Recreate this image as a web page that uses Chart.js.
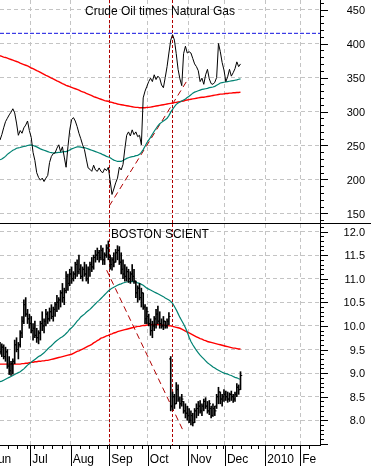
<!DOCTYPE html>
<html>
<head>
<meta charset="utf-8">
<script src="https://cdn.jsdelivr.net/npm/chart.js@4.4.0/dist/chart.umd.min.js"></script>
<style>
  body { margin: 0; background: #fff; }
  #wrap { position: relative; width: 371px; height: 466px; overflow: hidden; }
  canvas { position: absolute; left: 0; }
  #top { top: 0; }
  #bottom { top: 224px; }
</style>
</head>
<body>
<div id="wrap">
  <canvas id="top" width="371" height="224"></canvas>
  <canvas id="bottom" width="371" height="242"></canvas>
</div>
<script>
// x = trading day counted from Jun 1 2009
const firstDay = 5;
const monthLines = [-0.5, 21.5, 43.5, 64.5, 85.5, 107.5, 127.5, 149.5, 168.5];
const monthLabels = ['Jun', 'Jul', 'Aug', 'Sep', 'Oct', 'Nov', 'Dec', '2010', 'Fe'];
const weekStarts = [0, 5, 10, 15, 20, 24, 29, 34, 39, 44, 49, 54, 59, 64, 69, 73, 78, 83, 88, 93, 98, 103,
  108, 113, 118, 123, 127, 132, 137, 142, 146, 150, 155, 160, 164, 169, 174];
const markerDays = [64.5, 98.8];

// Crude oil x natural gas
const oilTicks = [150, 200, 250, 300, 350, 400, 450];
const crudeGas = [
  258, 266, 276, 285, 290, 295, 299, 304, 298, 283,
  265, 272, 268, 276, 280, 286, 272, 262, 240, 228,
  210, 203, 199, 202, 197, 202, 206, 225, 234, 238,
  239, 246, 251, 241, 248, 233, 218, 248, 273, 288,
  291, 286, 278, 268, 260, 251, 244, 230, 217, 215,
  212, 221, 214, 212, 217, 212, 210, 216, 213, 218,
  198, 178, 186, 195, 202, 218, 214, 222, 245, 265,
  270, 264, 273, 266, 270, 263, 265, 251, 320, 330,
  337, 344, 349, 344, 354, 347, 352, 349, 339, 335,
  350, 366, 386, 405, 413, 405, 385, 362, 348, 338,
  385, 396, 386, 388, 386, 378, 370, 366, 360, 344,
  349, 340, 354, 362, 348, 341, 340, 343, 350, 400,
  388, 372, 361, 344, 351, 362, 352, 357, 363, 373,
  366, 370
];
const crudeGasMa50 = [
  229, 230, 232, 234, 237, 239, 241, 243, 244, 246,
  246.5, 247, 248, 248.5, 249, 250, 250.5, 251, 250, 249,
  248, 246.5, 245, 244, 243, 242, 241, 240, 239.5, 239,
  239, 239.5, 240, 240, 240.5, 241, 241, 242, 243.5, 245,
  246, 247, 248, 248, 247.5, 247, 247, 246, 245, 244,
  243, 242, 241, 240, 239, 238, 236.5, 235.5, 234, 233,
  232, 230, 228.5, 227.5, 226.5, 226.5, 226.5, 228, 229.5, 231,
  232, 233, 233.5, 234, 235, 235.5, 237, 240, 244, 249,
  254, 258, 262, 266.5, 271, 275, 279, 282, 284, 286,
  288, 290, 294, 299, 303, 307, 310.5, 312.5, 314, 315.5,
  317, 318.5, 320.5, 322.5, 324.5, 327, 328.5, 329.5, 330.5, 331.5,
  332.5, 333, 333.5, 334, 335, 335.5, 336, 337, 338.5, 340,
  342, 342.5, 343, 343.5, 344, 344.5, 345, 345.5, 346, 346.5,
  347.5, 348
];
const crudeGasMa200 = [
  382, 381, 380, 379.5, 378.5, 377.5, 376.5, 375.5, 374.5, 373.5,
  372.5, 371, 370, 369, 368, 367, 365.5, 364, 363, 361.5,
  360, 359, 357.5, 356, 354.5, 353, 352, 350.5, 349, 348,
  346.5, 345, 344, 342.5, 341, 340, 338.5, 337.5, 336.5, 335.5,
  334.5, 333.5, 332.5, 331.5, 330, 329, 328, 326.5, 325.5, 324.5,
  323.5, 322, 321, 320, 319, 318, 317, 316, 315.5, 315,
  314, 313.5, 312.5, 312, 311, 310.5, 310, 309.5, 309, 308.5,
  308, 307.5, 307, 306.5, 306, 306, 305.5, 305.5, 305.5, 305.5,
  306, 306, 306.5, 307, 307.5, 308, 308.5, 309, 309.5, 310,
  310.5, 311, 311.5, 312, 312.5, 313, 313.5, 314, 314.5, 315,
  315.5, 316.5, 317, 317.5, 318, 318.5, 319, 319.5, 320, 320.5,
  321, 321, 321.5, 322, 322.5, 323, 323.5, 324, 324.5, 325,
  325.5, 325.5, 326, 326.5, 326.5, 327, 327, 327.5, 327.5, 328,
  328, 328.5
];
const oilTrendDays = [64.5, 107.7];
const oilTrendVals = [161, 349];
const oilHigh = 415;

// Boston Scientific daily bars
const bsxTicks = [8.0, 8.5, 9.0, 9.5, 10.0, 10.5, 11.0, 11.5, 12.0];
const opens = [
  9.50, 9.45, 9.55, 9.35, 9.45, 9.15, 9.05, 9.20, 9.25, 9.60,
  9.50, 9.60, 9.85, 10.10, 10.45, 10.25, 10.15, 10.05, 9.90, 9.95,
  9.80, 9.75, 9.85, 10.05, 10.00, 10.10, 10.25, 10.15, 10.30, 10.20,
  10.35, 10.45, 10.50, 10.55, 10.70, 10.60, 10.75, 11.05, 10.90, 11.10,
  11.00, 11.10, 11.30, 11.15, 11.20, 11.05, 11.20, 11.10, 11.00, 11.20,
  11.30, 11.25, 11.45, 11.50, 11.55, 11.45, 11.60, 11.40, 11.50, 11.65,
  11.45, 11.30, 11.40, 11.35, 11.55, 11.60, 11.35, 11.20, 11.10, 11.05,
  11.15, 11.00, 11.10, 11.05, 10.95, 10.70, 10.80, 10.60, 10.70, 10.40,
  10.15, 10.20, 10.05, 9.90, 10.00, 10.15, 10.25, 10.10, 10.05, 10.00,
  10.10, 10.00, 10.10, 9.30, 8.30, 8.50, 8.35, 8.65, 8.45, 8.35,
  8.40, 8.20, 8.15, 8.10, 8.00, 8.10, 7.95, 8.20, 8.25, 8.30,
  8.20, 8.30, 8.40, 8.30, 8.20, 8.25, 8.10, 8.25, 8.30, 8.50,
  8.60, 8.45, 8.50, 8.55, 8.50, 8.45, 8.55, 8.50, 8.45, 8.55,
  8.70, 8.65
];
const highs = [
  9.65, 9.62, 9.60, 9.55, 9.50, 9.35, 9.25, 9.30, 9.70, 9.75,
  9.65, 9.90, 10.20, 10.55, 10.60, 10.35, 10.25, 10.20, 10.05, 10.10,
  9.95, 9.90, 10.10, 10.30, 10.15, 10.35, 10.30, 10.38, 10.45, 10.40,
  10.50, 10.65, 10.60, 10.75, 10.90, 10.80, 11.15, 11.10, 11.20, 11.25,
  11.15, 11.35, 11.40, 11.50, 11.30, 11.25, 11.35, 11.30, 11.25, 11.35,
  11.45, 11.50, 11.60, 11.65, 11.60, 11.70, 11.65, 11.55, 11.72, 11.80,
  11.50, 11.45, 11.55, 11.62, 11.70, 11.68, 11.55, 11.40, 11.30, 11.25,
  11.20, 11.15, 11.30, 11.20, 10.95, 10.85, 10.90, 10.80, 10.70, 10.45,
  10.40, 10.25, 10.15, 10.10, 10.20, 10.35, 10.42, 10.30, 10.15, 10.20,
  10.10, 10.15, 10.28, 9.35, 8.60, 8.55, 8.80, 8.75, 8.50, 8.55,
  8.40, 8.35, 8.30, 8.25, 8.20, 8.15, 8.25, 8.35, 8.40, 8.42,
  8.35, 8.45, 8.48, 8.40, 8.42, 8.30, 8.35, 8.30, 8.55, 8.70,
  8.60, 8.55, 8.65, 8.62, 8.60, 8.58, 8.62, 8.55, 8.60, 8.78,
  8.75, 9.03
];
const lows = [
  9.40, 9.35, 9.30, 9.25, 9.10, 8.97, 8.95, 8.98, 9.20, 9.45,
  9.30, 9.55, 9.75, 10.05, 10.20, 10.05, 9.95, 9.85, 9.70, 9.75,
  9.65, 9.62, 9.70, 9.90, 9.85, 10.00, 10.05, 10.10, 10.15, 10.10,
  10.20, 10.30, 10.35, 10.40, 10.50, 10.45, 10.70, 10.75, 10.85, 10.90,
  10.95, 11.00, 11.05, 11.10, 11.00, 10.95, 11.05, 10.95, 10.90, 11.05,
  11.15, 11.20, 11.35, 11.40, 11.35, 11.40, 11.30, 11.30, 11.45, 11.40,
  11.20, 11.18, 11.25, 11.35, 11.40, 11.30, 11.10, 11.00, 10.95, 10.95,
  10.92, 10.90, 10.95, 10.90, 10.60, 10.50, 10.55, 10.40, 10.35, 10.05,
  10.05, 10.00, 9.80, 9.75, 9.90, 9.95, 10.05, 9.95, 9.95, 9.92,
  9.95, 9.95, 10.02, 8.20, 8.22, 8.25, 8.35, 8.40, 8.25, 8.30,
  8.15, 8.05, 8.00, 7.95, 7.90, 7.88, 7.95, 8.05, 8.10, 8.15,
  8.10, 8.20, 8.25, 8.15, 8.12, 8.05, 8.08, 8.10, 8.25, 8.35,
  8.35, 8.30, 8.40, 8.42, 8.38, 8.40, 8.42, 8.38, 8.40, 8.50,
  8.55, 8.65
];
const closes = [
  9.45, 9.55, 9.35, 9.45, 9.15, 9.05, 9.20, 9.25, 9.60, 9.50,
  9.60, 9.85, 10.10, 10.45, 10.25, 10.15, 10.05, 9.90, 9.95, 9.80,
  9.75, 9.85, 10.05, 10.00, 10.10, 10.25, 10.15, 10.30, 10.20, 10.35,
  10.45, 10.50, 10.55, 10.70, 10.60, 10.75, 11.05, 10.90, 11.10, 11.00,
  11.10, 11.30, 11.15, 11.20, 11.05, 11.20, 11.10, 11.00, 11.20, 11.30,
  11.25, 11.45, 11.50, 11.55, 11.45, 11.60, 11.40, 11.50, 11.65, 11.45,
  11.30, 11.40, 11.35, 11.55, 11.60, 11.35, 11.20, 11.10, 11.05, 11.15,
  11.00, 11.10, 11.05, 10.95, 10.70, 10.80, 10.60, 10.70, 10.40, 10.15,
  10.30, 10.05, 9.90, 10.00, 10.15, 10.25, 10.10, 10.05, 10.00, 10.10,
  10.00, 10.10, 10.20, 8.30, 8.50, 8.35, 8.65, 8.45, 8.35, 8.45,
  8.20, 8.15, 8.10, 8.00, 8.10, 7.95, 8.20, 8.25, 8.30, 8.20,
  8.30, 8.40, 8.30, 8.20, 8.35, 8.10, 8.25, 8.20, 8.50, 8.60,
  8.45, 8.50, 8.55, 8.50, 8.45, 8.55, 8.50, 8.45, 8.55, 8.70,
  8.65, 8.95
];
const bsxMa50 = [
  8.82, 8.83, 8.85, 8.87, 8.89, 8.91, 8.93, 8.95, 8.97, 8.99,
  9.01, 9.03, 9.06, 9.09, 9.13, 9.17, 9.20, 9.23, 9.26, 9.29,
  9.32, 9.35, 9.37, 9.40, 9.43, 9.47, 9.51, 9.55, 9.58, 9.62,
  9.66, 9.69, 9.72, 9.75, 9.77, 9.80, 9.84, 9.88, 9.93, 9.96,
  10.00, 10.05, 10.10, 10.14, 10.19, 10.22, 10.25, 10.29, 10.32, 10.35,
  10.39, 10.43, 10.47, 10.51, 10.54, 10.58, 10.62, 10.66, 10.70, 10.74,
  10.77, 10.80, 10.82, 10.84, 10.86, 10.88, 10.89, 10.91, 10.92, 10.93,
  10.94, 10.94, 10.94, 10.94, 10.93, 10.91, 10.90, 10.88, 10.86, 10.83,
  10.80, 10.78, 10.76, 10.74, 10.72, 10.70, 10.68, 10.66, 10.64, 10.62,
  10.59, 10.57, 10.55, 10.52, 10.48, 10.41, 10.34, 10.26, 10.18, 10.11,
  10.04, 9.96, 9.87, 9.76, 9.67, 9.60, 9.54, 9.48, 9.43, 9.38,
  9.34, 9.30, 9.26, 9.22, 9.19, 9.16, 9.13, 9.11, 9.08, 9.06,
  9.04, 9.02, 9.00, 8.99, 8.98, 8.96, 8.95, 8.93, 8.91, 8.90,
  8.88, 8.87
];
const bsxMa200 = [
  9.19, 9.19, 9.19, 9.19, 9.19, 9.19, 9.19, 9.19, 9.19, 9.19,
  9.19, 9.19, 9.20, 9.20, 9.21, 9.21, 9.22, 9.23, 9.23, 9.24,
  9.24, 9.25, 9.25, 9.26, 9.26, 9.27, 9.27, 9.28, 9.29, 9.30,
  9.31, 9.32, 9.33, 9.34, 9.35, 9.36, 9.37, 9.38, 9.39, 9.40,
  9.42, 9.44, 9.46, 9.47, 9.49, 9.51, 9.53, 9.55, 9.57, 9.59,
  9.61, 9.64, 9.66, 9.69, 9.71, 9.74, 9.75, 9.77, 9.79, 9.80,
  9.82, 9.83, 9.85, 9.86, 9.88, 9.89, 9.90, 9.91, 9.92, 9.93,
  9.94, 9.95, 9.96, 9.97, 9.98, 9.99, 9.99, 10.00, 10.01, 10.01,
  10.02, 10.02, 10.02, 10.03, 10.03, 10.03, 10.03, 10.02, 10.02, 10.02,
  10.01, 10.01, 10.00, 10.00, 9.99, 9.98, 9.97, 9.96, 9.95, 9.93,
  9.91, 9.89, 9.87, 9.85, 9.83, 9.81, 9.79, 9.77, 9.75, 9.73,
  9.72, 9.70, 9.69, 9.67, 9.66, 9.65, 9.64, 9.63, 9.62, 9.61,
  9.60, 9.59, 9.58, 9.57, 9.56, 9.55, 9.54, 9.53, 9.53, 9.52,
  9.51, 9.51
];
const bsxTrendDays = [63.1, 105];
const bsxTrendVals = [11.18, 7.76];

const days = crudeGas.map((_, i) => firstDay + i);

const X_MIN = 5, X_MAX = 179.3;
const GRID = '#c4c4c4';
const TEAL = '#008272';
const RED = '#ff0000';
const DARKRED = '#b00000';
const FONT = '"Liberation Sans", Arial, sans-serif';

Chart.defaults.font.family = FONT;
Chart.defaults.color = '#000';

const pts = (xs, ys) => xs.map((x, i) => ({ x, y: ys[i] }));

// red marker lines, axis ticks, panel titles
const decor = {
  id: 'decor',
  beforeDatasetsDraw(chart) {
    const { ctx, chartArea: a, scales: { x } } = chart;
    ctx.save();
    ctx.strokeStyle = DARKRED;
    ctx.lineWidth = 1;
    ctx.setLineDash([3, 2]);
    markerDays.forEach(d => {
      const px = Math.round(x.getPixelForValue(d)) + 0.5;
      ctx.beginPath();
      ctx.moveTo(px, a.top);
      ctx.lineTo(px, a.bottom);
      ctx.stroke();
    });
    ctx.restore();
  },
  afterDraw(chart, args, o) {
    const { ctx, chartArea: a, scales: { x, y } } = chart;
    ctx.save();
    ctx.strokeStyle = '#000';
    ctx.lineWidth = 1;
    ctx.beginPath();
    const n = Math.round((o.tickTo - o.tickFrom) / o.minor);
    for (let k = 0; k <= n; k++) {
      const v = o.tickFrom + k * o.minor;
      const py = Math.round(y.getPixelForValue(v)) + 0.5;
      if (py < a.top || py > a.bottom + 1) continue;
      const major = Math.abs(v / o.major - Math.round(v / o.major)) < 1e-6;
      ctx.moveTo(a.right, py);
      ctx.lineTo(a.right + (major ? 8 : 4), py);
    }
    if (o.weeks) {
      weekStarts.forEach(d => {
        const px = Math.round(x.getPixelForValue(d - 0.5)) + 0.5;
        if (px < a.left || px > a.right) return;
        ctx.moveTo(px, a.bottom);
        ctx.lineTo(px, a.bottom + 4);
      });
      monthLines.forEach(d => {
        const px = Math.round(x.getPixelForValue(d)) + 0.5;
        if (px < a.left || px > a.right) return;
        ctx.moveTo(px, a.bottom);
        ctx.lineTo(px, chart.height);
      });
    }
    ctx.stroke();
    ctx.fillStyle = '#000';
    ctx.font = '12px ' + FONT;
    ctx.textAlign = 'center';
    ctx.fillText(o.title, (a.left + a.right) / 2, a.top + o.titleBase);
    if (o.divider) ctx.fillRect(0, a.bottom, chart.width, 1);
    ctx.restore();
  }
};

function xAxis(height, showLabels) {
  return {
    type: 'linear', min: X_MIN, max: X_MAX, offset: false,
    afterBuildTicks: s => { s.ticks = monthLines.map(value => ({ value })); },
    afterFit: s => { s.height = height; s.paddingLeft = 0; s.paddingRight = 0; },
    grid: { color: GRID, drawTicks: false, offset: false },
    border: { display: showLabels, color: '#000', dash: [4, 3] },
    ticks: {
      display: showLabels, font: { size: 12 }, color: '#000', align: 'start',
      labelOffset: 2, padding: 7, autoSkip: false, maxRotation: 0,
      callback: (v, i) => monthLabels[i]
    }
  };
}

// labels are right-aligned on the axis box's right edge (371 - 6 = 365)
function yAxis(min, max, tickList, fmt) {
  return {
    position: 'right', min, max,
    afterBuildTicks: s => { s.ticks = tickList.map(value => ({ value })); },
    afterFit: s => { s.width = 45; s.paddingTop = 0; s.paddingBottom = 0; },
    grid: { color: GRID, drawTicks: false },
    border: { color: '#000', dash: [4, 3] },
    ticks: { font: { size: 11 }, color: '#000', crossAlign: 'far', padding: 20, labelOffset: 1, callback: fmt }
  };
}

const base = {
  responsive: false,
  animation: false,
  devicePixelRatio: 1,
  events: [],
  layout: { padding: { left: 0, top: 0, bottom: 0, right: 6 }, autoPadding: false },
  elements: { point: { radius: 0 }, line: { tension: 0 } }
};

new Chart(document.getElementById('top'), {
  type: 'line',
  data: {
    datasets: [
      { data: pts(days, crudeGas), borderColor: '#000', borderWidth: 1, order: 0 },
      { data: pts(days, crudeGasMa50), borderColor: TEAL, borderWidth: 1.2, order: 1 },
      { data: pts(days, crudeGasMa200), borderColor: RED, borderWidth: 1.4, order: 2 },
      { data: pts(oilTrendDays, oilTrendVals), borderColor: DARKRED, borderWidth: 1, borderDash: [6, 4], order: 3 },
      { data: pts([X_MIN, X_MAX], [oilHigh, oilHigh]), borderColor: '#1010e0', borderWidth: 1, borderDash: [4, 2], order: 4 }
    ]
  },
  options: {
    ...base,
    plugins: {
      legend: { display: false }, tooltip: { enabled: false },
      decor: { title: 'Crude Oil times Natural Gas', titleBase: 15, tickFrom: 140, tickTo: 460, minor: 10, major: 50, divider: true }
    },
    scales: {
      x: xAxis(1, false),
      y: yAxis(136, 464, oilTicks, v => v)
    }
  },
  plugins: [decor]
});

new Chart(document.getElementById('bottom'), {
  type: 'line',
  data: {
    datasets: [
      { type: 'bar', data: days.map((d, i) => ({ x: d, y: [lows[i], highs[i]] })), backgroundColor: '#000', barThickness: 1, borderWidth: 0, order: 0 },
      { type: 'scatter', data: pts(days.map(d => d - 0.5), opens), pointStyle: 'line', pointRadius: 0.8, pointBorderColor: '#000', pointBorderWidth: 1, order: 0 },
      { type: 'scatter', data: pts(days.map(d => d + 0.5), closes), pointStyle: 'line', pointRadius: 0.8, pointBorderColor: '#000', pointBorderWidth: 1, order: 0 },
      { data: pts(days, bsxMa50), borderColor: TEAL, borderWidth: 1.2, order: 1 },
      { data: pts(days, bsxMa200), borderColor: RED, borderWidth: 1.4, order: 2 },
      { data: pts(bsxTrendDays, bsxTrendVals), borderColor: DARKRED, borderWidth: 1, borderDash: [6, 4], order: 3 }
    ]
  },
  options: {
    ...base,
    plugins: {
      legend: { display: false }, tooltip: { enabled: false },
      decor: { title: 'BOSTON SCIENT', titleBase: 14, tickFrom: 7.5, tickTo: 12.1, minor: 0.1, major: 0.5, weeks: true }
    },
    scales: {
      x: xAxis(21, true),
      y: yAxis(7.477, 12.159, bsxTicks, v => v.toFixed(1))
    }
  },
  plugins: [decor]
});
</script>
</body>
</html>
